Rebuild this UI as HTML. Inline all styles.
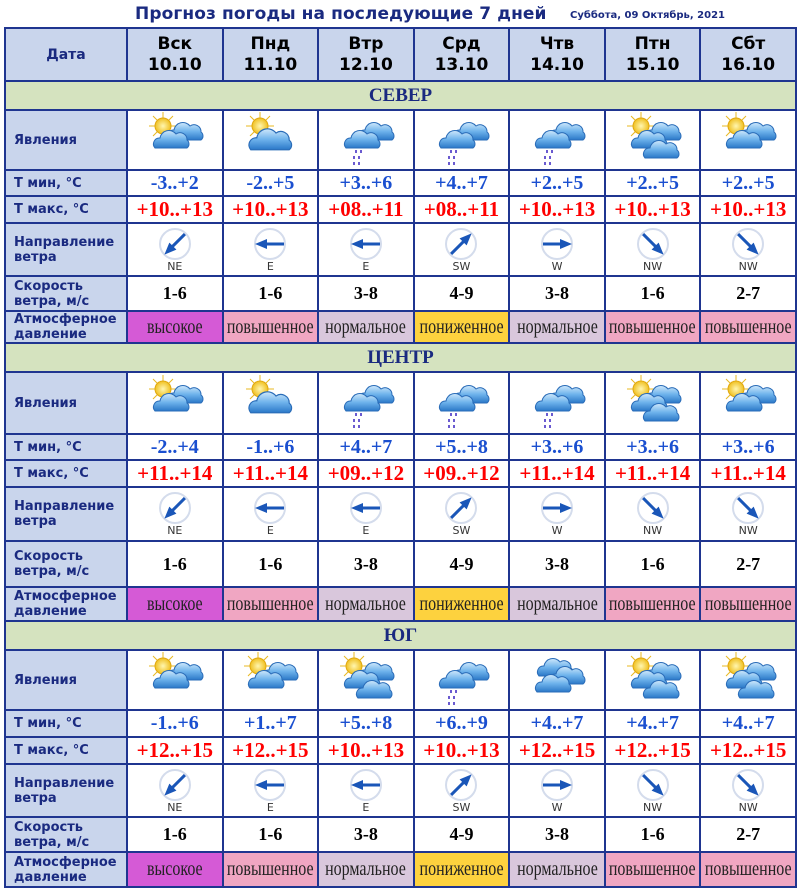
<!DOCTYPE html>
<html><head><meta charset="utf-8">
<style>
body{margin:0;width:800px;height:889px;background:#fff;position:relative;overflow:hidden;font-family:"DejaVu Sans","Liberation Sans",sans-serif}
.title{position:absolute;left:135px;top:4px;font:bold 17px "DejaVu Sans",sans-serif;color:#1a2a80;letter-spacing:0.1px}
.date{position:absolute;left:570px;top:10px;font:bold 10px "DejaVu Sans",sans-serif;color:#1a2a80}
table{position:absolute;left:4px;top:27px;border-collapse:collapse;table-layout:fixed;width:793px}
td{border:2px solid #1f3590;padding:0;text-align:center;vertical-align:middle;overflow:hidden;white-space:nowrap}
td.l{background:#c9d5ec;color:#1a2a80;font:bold 13px "DejaVu Sans",sans-serif;text-align:left;padding-left:8px;white-space:normal;line-height:15px}
td.h{background:#c9d5ec;color:#000;font:bold 17px "DejaVu Sans",sans-serif;line-height:21px}
td.hl{background:#c9d5ec;color:#1a2a80;font:bold 14px "DejaVu Sans",sans-serif}
td.band{background:#d5e3bf;color:#1a2a80;font:bold 19px "Liberation Serif",serif}
.mn{color:#1a4fd0;font:bold 20px "Liberation Serif",serif}
.mx{color:#f00;font:bold 21px "Liberation Serif",serif}
.sp{color:#000;font:bold 18px "Liberation Serif",serif}
.p{font:20px "Liberation Serif",serif;color:#222}
.p span{display:inline-block;transform:scaleX(0.8);margin:0 -14px}
.hi{background:#d55ad6}.up{background:#f0a6c2}.no{background:#d9c7dc}.lo{background:#fdd23e}
.w{font:11px "DejaVu Sans",sans-serif;color:#333;line-height:12px}
svg{display:block;margin:0 auto}
</style></head><body>
<svg width="0" height="0" style="position:absolute">
<defs>
<linearGradient id="g" x1="0" y1="0" x2="0" y2="1"><stop offset="0" stop-color="#cfe8fb"/><stop offset="0.5" stop-color="#6fb3ec"/><stop offset="1" stop-color="#2a78c8"/></linearGradient>
<radialGradient id="s"><stop offset="0" stop-color="#fff6b0"/><stop offset="1" stop-color="#f0c020"/></radialGradient>
<path id="cl" d="M4,22 a6,6 0 0 1 5,-10 a9,9 0 0 1 16,-4 a7,7 0 0 1 11,6 a5,5 0 0 1 0,8 z" fill="url(#g)" stroke="#2a6cb8" stroke-width="1"/>
<g id="sun"><g stroke="#e8b820" stroke-width="1"><line x1="14" y1="0" x2="14" y2="28"/><line x1="0" y1="14" x2="28" y2="14"/><line x1="4" y1="4" x2="24" y2="24"/><line x1="24" y1="4" x2="4" y2="24"/></g><circle cx="14" cy="14" r="8" fill="url(#s)" stroke="#e0a810"/></g>
<g id="c2"><use href="#cl" x="20" y="6"/><use href="#cl" x="6" y="14"/></g>
<g id="sun1"><use href="#sun" x="6" y="0"/><use href="#cl" x="10" y="12" transform="translate(-6,-3) scale(1.2)"/></g>
<g id="sun2"><use href="#sun" x="4" y="0"/><use href="#c2"/></g>
<g id="sun3"><use href="#sun" x="4" y="0"/><use href="#c2"/><use href="#cl" x="18" y="24"/></g>
<g id="c3"><use href="#cl" x="8" y="2"/><use href="#c2" y="4"/></g>
<g id="rain"><use href="#c2"/><g fill="#6a5ad0"><rect x="19" y="38" width="2" height="3"/><rect x="24" y="38" width="2" height="3"/><rect x="17" y="44" width="2" height="3"/><rect x="22" y="44" width="2" height="3"/><rect x="17" y="50" width="2" height="3"/><rect x="22" y="50" width="2" height="3"/></g></g>
<g id="ar"><circle cx="0" cy="0" r="15" fill="#fff" stroke="#d4dcec" stroke-width="2"/><path d="M-15,0 L-3,-5 L-3,-1.5 L14,-1.5 L14,1.5 L-3,1.5 L-3,5 Z" fill="#1a56b8"/></g>
</defs></svg>
<div class="title">Прогноз погоды на последующие 7 дней</div>
<div class="date">Суббота, 09 Октябрь, 2021</div>
<table>
<colgroup><col style="width:122px"><col><col><col><col><col><col><col></colgroup>
<tr style="height:53px"><td class="hl">Дата</td><td class="h">Вск<br>10.10</td><td class="h">Пнд<br>11.10</td><td class="h">Втр<br>12.10</td><td class="h">Срд<br>13.10</td><td class="h">Чтв<br>14.10</td><td class="h">Птн<br>15.10</td><td class="h">Сбт<br>16.10</td></tr>

<tr style="height:29px"><td class="band" colspan="8">СЕВЕР</td></tr>
<tr style="height:60px"><td class="l">Явления</td>
<td><svg width="60" height="56" viewBox="0 0 60 56"><use href="#sun2"/></svg></td>
<td><svg width="60" height="56" viewBox="0 0 60 56"><use href="#sun1"/></svg></td>
<td><svg width="60" height="56" viewBox="0 0 60 56"><use href="#rain"/></svg></td>
<td><svg width="60" height="56" viewBox="0 0 60 56"><use href="#rain"/></svg></td>
<td><svg width="60" height="56" viewBox="0 0 60 56"><use href="#rain"/></svg></td>
<td><svg width="60" height="56" viewBox="0 0 60 56"><use href="#sun3"/></svg></td>
<td><svg width="60" height="56" viewBox="0 0 60 56"><use href="#sun2"/></svg></td></tr>
<tr style="height:26px"><td class="l">Т мин, °С</td><td class="mn">-3..+2</td><td class="mn">-2..+5</td><td class="mn">+3..+6</td><td class="mn">+4..+7</td><td class="mn">+2..+5</td><td class="mn">+2..+5</td><td class="mn">+2..+5</td></tr>
<tr style="height:27px"><td class="l">Т макс, °С</td><td class="mx">+10..+13</td><td class="mx">+10..+13</td><td class="mx">+08..+11</td><td class="mx">+08..+11</td><td class="mx">+10..+13</td><td class="mx">+10..+13</td><td class="mx">+10..+13</td></tr>
<tr style="height:53px"><td class="l">Направление ветра</td>
<td><svg width="36" height="34" viewBox="-18 -17 36 34"><use href="#ar" transform="rotate(-45)"/></svg><div class="w">NE</div></td>
<td><svg width="36" height="34" viewBox="-18 -17 36 34"><use href="#ar"/></svg><div class="w">E</div></td>
<td><svg width="36" height="34" viewBox="-18 -17 36 34"><use href="#ar"/></svg><div class="w">E</div></td>
<td><svg width="36" height="34" viewBox="-18 -17 36 34"><use href="#ar" transform="rotate(135)"/></svg><div class="w">SW</div></td>
<td><svg width="36" height="34" viewBox="-18 -17 36 34"><use href="#ar" transform="rotate(180)"/></svg><div class="w">W</div></td>
<td><svg width="36" height="34" viewBox="-18 -17 36 34"><use href="#ar" transform="rotate(-135)"/></svg><div class="w">NW</div></td>
<td><svg width="36" height="34" viewBox="-18 -17 36 34"><use href="#ar" transform="rotate(-135)"/></svg><div class="w">NW</div></td></tr>
<tr style="height:35px"><td class="l">Скорость ветра, м/с</td><td class="sp">1-6</td><td class="sp">1-6</td><td class="sp">3-8</td><td class="sp">4-9</td><td class="sp">3-8</td><td class="sp">1-6</td><td class="sp">2-7</td></tr>
<tr style="height:32px"><td class="l">Атмосферное давление</td><td class="p hi"><span>высокое</span></td><td class="p up"><span>повышенное</span></td><td class="p no"><span>нормальное</span></td><td class="p lo"><span>пониженное</span></td><td class="p no"><span>нормальное</span></td><td class="p up"><span>повышенное</span></td><td class="p up"><span>повышенное</span></td></tr>

<tr style="height:29px"><td class="band" colspan="8">ЦЕНТР</td></tr>
<tr style="height:62px"><td class="l">Явления</td>
<td><svg width="60" height="56" viewBox="0 0 60 56"><use href="#sun2"/></svg></td>
<td><svg width="60" height="56" viewBox="0 0 60 56"><use href="#sun1"/></svg></td>
<td><svg width="60" height="56" viewBox="0 0 60 56"><use href="#rain"/></svg></td>
<td><svg width="60" height="56" viewBox="0 0 60 56"><use href="#rain"/></svg></td>
<td><svg width="60" height="56" viewBox="0 0 60 56"><use href="#rain"/></svg></td>
<td><svg width="60" height="56" viewBox="0 0 60 56"><use href="#sun3"/></svg></td>
<td><svg width="60" height="56" viewBox="0 0 60 56"><use href="#sun2"/></svg></td></tr>
<tr style="height:26px"><td class="l">Т мин, °С</td><td class="mn">-2..+4</td><td class="mn">-1..+6</td><td class="mn">+4..+7</td><td class="mn">+5..+8</td><td class="mn">+3..+6</td><td class="mn">+3..+6</td><td class="mn">+3..+6</td></tr>
<tr style="height:26px"><td class="l">Т макс, °С</td><td class="mx">+11..+14</td><td class="mx">+11..+14</td><td class="mx">+09..+12</td><td class="mx">+09..+12</td><td class="mx">+11..+14</td><td class="mx">+11..+14</td><td class="mx">+11..+14</td></tr>
<tr style="height:54px"><td class="l">Направление ветра</td>
<td><svg width="36" height="34" viewBox="-18 -17 36 34"><use href="#ar" transform="rotate(-45)"/></svg><div class="w">NE</div></td>
<td><svg width="36" height="34" viewBox="-18 -17 36 34"><use href="#ar"/></svg><div class="w">E</div></td>
<td><svg width="36" height="34" viewBox="-18 -17 36 34"><use href="#ar"/></svg><div class="w">E</div></td>
<td><svg width="36" height="34" viewBox="-18 -17 36 34"><use href="#ar" transform="rotate(135)"/></svg><div class="w">SW</div></td>
<td><svg width="36" height="34" viewBox="-18 -17 36 34"><use href="#ar" transform="rotate(180)"/></svg><div class="w">W</div></td>
<td><svg width="36" height="34" viewBox="-18 -17 36 34"><use href="#ar" transform="rotate(-135)"/></svg><div class="w">NW</div></td>
<td><svg width="36" height="34" viewBox="-18 -17 36 34"><use href="#ar" transform="rotate(-135)"/></svg><div class="w">NW</div></td></tr>
<tr style="height:46px"><td class="l">Скорость ветра, м/с</td><td class="sp">1-6</td><td class="sp">1-6</td><td class="sp">3-8</td><td class="sp">4-9</td><td class="sp">3-8</td><td class="sp">1-6</td><td class="sp">2-7</td></tr>
<tr style="height:34px"><td class="l">Атмосферное давление</td><td class="p hi"><span>высокое</span></td><td class="p up"><span>повышенное</span></td><td class="p no"><span>нормальное</span></td><td class="p lo"><span>пониженное</span></td><td class="p no"><span>нормальное</span></td><td class="p up"><span>повышенное</span></td><td class="p up"><span>повышенное</span></td></tr>

<tr style="height:29px"><td class="band" colspan="8">ЮГ</td></tr>
<tr style="height:60px"><td class="l">Явления</td>
<td><svg width="60" height="56" viewBox="0 0 60 56"><use href="#sun2"/></svg></td>
<td><svg width="60" height="56" viewBox="0 0 60 56"><use href="#sun2"/></svg></td>
<td><svg width="60" height="56" viewBox="0 0 60 56"><use href="#sun3"/></svg></td>
<td><svg width="60" height="56" viewBox="0 0 60 56"><use href="#rain"/></svg></td>
<td><svg width="60" height="56" viewBox="0 0 60 56"><use href="#c3"/></svg></td>
<td><svg width="60" height="56" viewBox="0 0 60 56"><use href="#sun3"/></svg></td>
<td><svg width="60" height="56" viewBox="0 0 60 56"><use href="#sun3"/></svg></td></tr>
<tr style="height:27px"><td class="l">Т мин, °С</td><td class="mn">-1..+6</td><td class="mn">+1..+7</td><td class="mn">+5..+8</td><td class="mn">+6..+9</td><td class="mn">+4..+7</td><td class="mn">+4..+7</td><td class="mn">+4..+7</td></tr>
<tr style="height:26px"><td class="l">Т макс, °С</td><td class="mx">+12..+15</td><td class="mx">+12..+15</td><td class="mx">+10..+13</td><td class="mx">+10..+13</td><td class="mx">+12..+15</td><td class="mx">+12..+15</td><td class="mx">+12..+15</td></tr>
<tr style="height:53px"><td class="l">Направление ветра</td>
<td><svg width="36" height="34" viewBox="-18 -17 36 34"><use href="#ar" transform="rotate(-45)"/></svg><div class="w">NE</div></td>
<td><svg width="36" height="34" viewBox="-18 -17 36 34"><use href="#ar"/></svg><div class="w">E</div></td>
<td><svg width="36" height="34" viewBox="-18 -17 36 34"><use href="#ar"/></svg><div class="w">E</div></td>
<td><svg width="36" height="34" viewBox="-18 -17 36 34"><use href="#ar" transform="rotate(135)"/></svg><div class="w">SW</div></td>
<td><svg width="36" height="34" viewBox="-18 -17 36 34"><use href="#ar" transform="rotate(180)"/></svg><div class="w">W</div></td>
<td><svg width="36" height="34" viewBox="-18 -17 36 34"><use href="#ar" transform="rotate(-135)"/></svg><div class="w">NW</div></td>
<td><svg width="36" height="34" viewBox="-18 -17 36 34"><use href="#ar" transform="rotate(-135)"/></svg><div class="w">NW</div></td></tr>
<tr style="height:35px"><td class="l">Скорость ветра, м/с</td><td class="sp">1-6</td><td class="sp">1-6</td><td class="sp">3-8</td><td class="sp">4-9</td><td class="sp">3-8</td><td class="sp">1-6</td><td class="sp">2-7</td></tr>
<tr style="height:35px"><td class="l">Атмосферное давление</td><td class="p hi"><span>высокое</span></td><td class="p up"><span>повышенное</span></td><td class="p no"><span>нормальное</span></td><td class="p lo"><span>пониженное</span></td><td class="p no"><span>нормальное</span></td><td class="p up"><span>повышенное</span></td><td class="p up"><span>повышенное</span></td></tr>
</table>
</body></html>
